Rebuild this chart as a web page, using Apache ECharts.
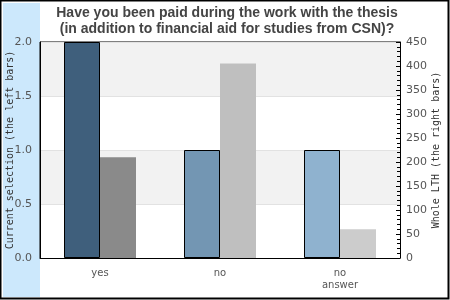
<!DOCTYPE html>
<html><head><meta charset="utf-8">
<script src="https://cdn.jsdelivr.net/npm/echarts@6/dist/echarts.min.js"></script>
<style>html,body{margin:0;padding:0;background:#fff}#c{width:450px;height:300px}</style>
</head><body><div id="c"></div>
<script>
const categories = ['yes', 'no', 'no\nanswer'];
const currentSelection = [2, 1, 1];
const wholeLTH = [210, 405, 60];
const leftColors = ['#3f5f7c', '#7396b3', '#8fb2cf'];
const rightColors = ['#8a8a8a', '#bfbfbf', '#cccccc'];
const leftTicks = { min: 0, max: 2, interval: 0.5 };
const rightTicks = { min: 0, max: 450, interval: 50 };

const chart = echarts.init(document.getElementById('c'), null, { renderer: 'canvas' });
chart.setOption({
  animation: false,
  backgroundColor: '#fff',
  graphic: [
    { type: 'rect', z: -10, shape: { x: 0.5, y: 0.5, width: 448, height: 298 }, style: { fill: '#fff', stroke: '#000', lineWidth: 2 } },
    { type: 'rect', z: -9, shape: { x: 3, y: 3, width: 37, height: 294 }, style: { fill: '#cce8fc' } }
  ],
  title: {
    text: 'Have you been paid during the work with the thesis\n(in addition to financial aid for studies from CSN)?',
    left: 222, top: 0, textAlign: 'center',
    textStyle: { fontFamily: 'Liberation Sans', fontWeight: 'bold', fontSize: 14, color: '#444', lineHeight: 16 }
  },
  grid: { left: 40, right: 50, top: 42, bottom: 42, outerBoundsMode: 'none', containLabel: false, show: true, borderColor: '#000', borderWidth: 1, backgroundColor: 'transparent' },
  xAxis: {
    type: 'category', data: categories,
    axisLine: { lineStyle: { color: '#000' } },
    axisTick: { show: false },
    axisLabel: { color: '#555', fontFamily: 'DejaVu Sans', fontSize: 10, margin: 9, lineHeight: 12 }
  },
  yAxis: [
    {
      type: 'value', min: leftTicks.min, max: leftTicks.max, interval: leftTicks.interval,
      name: 'Current selection (the left bars)', nameLocation: 'middle', nameRotate: 90, nameGap: 25,
      nameMoveOverlap: false,
      nameTextStyle: { fontFamily: 'DejaVu Sans Mono', fontSize: 10, color: '#333' },
      axisLine: { show: true, lineStyle: { color: '#000' } },
      axisTick: { show: false },
      axisLabel: { color: '#555', fontFamily: 'DejaVu Sans', fontSize: 11, margin: 8, formatter: v => v.toFixed(1) },
      splitLine: { show: true, lineStyle: { color: '#e2e2e2' } },
      splitArea: { show: true, areaStyle: { color: ['#ffffff', '#f2f2f2'] } }
    },
    {
      type: 'value', min: rightTicks.min, max: rightTicks.max, interval: rightTicks.interval, position: 'right',
      name: 'Whole LTH (the right bars)', nameLocation: 'middle', nameRotate: 90, nameGap: 31,
      nameMoveOverlap: false,
      nameTextStyle: { fontFamily: 'DejaVu Sans Mono', fontSize: 10, color: '#333' },
      axisLine: { show: true, lineStyle: { color: '#000' } },
      axisTick: { show: true, inside: true, length: 4, lineStyle: { color: '#000' } },
      minorTick: { show: true, splitNumber: 5, length: 3, lineStyle: { color: '#000' } },
      axisLabel: { color: '#555', fontFamily: 'DejaVu Sans', fontSize: 11, margin: 6 },
      splitLine: { show: false }
    }
  ],
  series: [
    {
      type: 'bar', yAxisIndex: 0, barWidth: 36, barGap: '0%',
      data: currentSelection.map((v, i) => ({ value: v, itemStyle: { color: leftColors[i] } })),
      itemStyle: { borderColor: '#000', borderWidth: 1 }
    },
    {
      type: 'bar', yAxisIndex: 1, barWidth: 36, barGap: '0%',
      data: wholeLTH.map((v, i) => ({ value: v, itemStyle: { color: rightColors[i] } }))
    }
  ]
});
</script></body></html>
